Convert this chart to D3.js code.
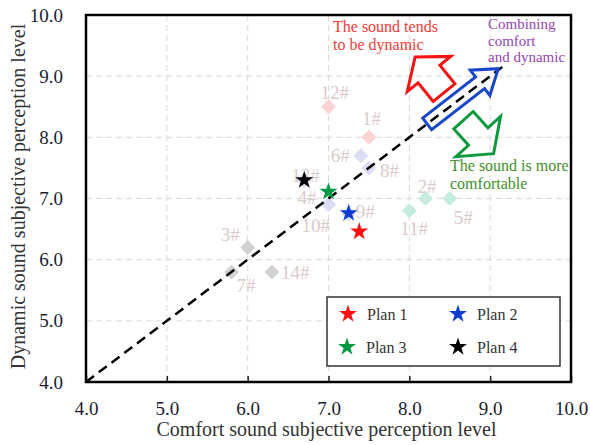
<!DOCTYPE html>
<html>
<head>
<meta charset="utf-8">
<script src="https://cdn.jsdelivr.net/npm/d3@7/dist/d3.min.js"></script>
<style>
  html, body { margin: 0; padding: 0; background: #fff; }
  svg { display: block; }
  svg text { font-family: "Liberation Serif", "Times New Roman", serif !important; }
</style>
</head>
<body>
<svg id="chart" width="590" height="445"></svg>
<script>
// ---- data ----
const tickValues = [4, 5, 6, 7, 8, 9, 10];
const xTitle = "Comfort sound subjective perception level";
const yTitle = "Dynamic sound subjective perception level";

// reference sound samples (diamonds)
const sampleNames   = ["1#", "2#", "3#", "4#", "5#", "6#", "7#", "8#", "9#", "10#", "11#", "12#", "13#", "14#"];
const sampleComfort = [7.5, 8.2, 6.0, 7.0, 8.5, 7.4, 5.8, 7.5, 7.25, 7.0, 8.0, 7.0, 6.7, 6.3];
const sampleDynamic = [8.0, 7.0, 6.2, 6.9, 7.0, 7.7, 5.8, 7.5, 6.75, 6.9, 6.8, 8.5, 7.3, 5.8];
const sampleGroup   = ["pink", "mint", "grey", "lilac", "mint", "lilac", "grey", "lilac", "lilac", "lilac", "mint", "pink", "lilac", "grey"];

// design plans (stars)
const planNames   = ["Plan 1", "Plan 2", "Plan 3", "Plan 4"];
const planComfort = [7.38, 7.25, 7.0, 6.7];
const planDynamic = [6.46, 6.76, 7.11, 7.3];

// ---- styles ----
const groupColor = { pink: "#fbd3d3", mint: "#c6ece0", grey: "#d2d2d2", lilac: "#dcdcf5" };
const planColor  = ["#ff1010", "#0b3ccf", "#009944", "#000000"];
const labelColor = "#dccaca";

// label placement around each diamond: [dx, dy, anchor]
const labelPlace = {
  "1#": [-7, -12, "start"], "2#": [-8, -6, "start"], "3#": [-8, -6, "end"],
  "4#": [-12, -1, "end"], "5#": [4, 25, "start"], "6#": [-11, 6, "end"],
  "7#": [5, 20, "start"], "8#": [11, 9, "start"], "9#": [7, 4, "start"],
  "10#": [-27, 27, "start"], "11#": [-9, 24, "start"], "12#": [-8, -8, "start"],
  "13#": [-13, 2, "start"], "14#": [9, 7, "start"]
};

const svg = d3.select("#chart");
const plotL = 86, plotR = 571, plotT = 15, plotB = 382;

const x = d3.scaleLinear().domain([4, 10]).range([plotL, plotR]);
const y = d3.scaleLinear().domain([4, 10]).range([plotB, plotT]);

// ---- grid ----
const grid = svg.append("g");
grid.selectAll("line.gx").data(tickValues.slice(1, -1)).join("line")
  .attr("x1", d => x(d)).attr("x2", d => x(d))
  .attr("y1", plotT).attr("y2", plotB)
  .attr("stroke", "#dadada").attr("stroke-width", 1).attr("stroke-dasharray", "6,4");
grid.selectAll("line.gy").data(tickValues.slice(1, -1)).join("line")
  .attr("x1", plotL).attr("x2", plotR)
  .attr("y1", d => y(d)).attr("y2", d => y(d))
  .attr("stroke", "#dadada").attr("stroke-width", 1).attr("stroke-dasharray", "6,4");

// ---- axes ----
const fmt = d3.format(".1f");
const xAxis = svg.append("g").attr("transform", `translate(0,${plotB})`)
  .call(d3.axisBottom(x).tickValues(tickValues).tickFormat(fmt).tickSizeInner(-6).tickSizeOuter(0).tickPadding(20));
const yAxis = svg.append("g").attr("transform", `translate(${plotL},0)`)
  .call(d3.axisLeft(y).tickValues(tickValues).tickFormat(fmt).tickSize(0).tickPadding(23));
[xAxis, yAxis].forEach(a => {
  a.select(".domain").remove();
  a.selectAll("text").attr("font-size", 19).attr("fill", "#1c1c30");
  a.selectAll("line").attr("stroke", "#222").attr("stroke-width", 1.5);
});

// axis titles
svg.append("text").attr("x", (plotL + plotR) / 2 - 2).attr("y", 436)
  .attr("text-anchor", "middle").attr("font-size", 20).attr("fill", "#333").text(xTitle);
svg.append("text").attr("transform", `translate(25,${(plotT + plotB) / 2 - 2}) rotate(-90)`)
  .attr("text-anchor", "middle").attr("font-size", 20).attr("fill", "#333").text(yTitle);

// ---- sample diamonds ----
const samples = sampleNames.map((n, i) => ({ name: n, cx: sampleComfort[i], dy: sampleDynamic[i], group: sampleGroup[i] }));
const diamond = d3.symbol(d3.symbolSquare, 112);
svg.append("g").selectAll("path").data(samples).join("path")
  .attr("d", diamond)
  .attr("transform", d => `translate(${x(d.cx)},${y(d.dy)}) rotate(45)`)
  .attr("fill", d => groupColor[d.group]);

// balance line y = x
svg.append("line")
  .attr("x1", x(4)).attr("y1", y(4)).attr("x2", x(9.2)).attr("y2", y(9.2))
  .attr("stroke", "#000").attr("stroke-width", 2.5).attr("stroke-dasharray", "10,6");

// sample labels
svg.append("g").selectAll("text").data(samples).join("text")
  .attr("x", d => x(d.cx) + labelPlace[d.name][0])
  .attr("y", d => y(d.dy) + labelPlace[d.name][1])
  .attr("text-anchor", d => labelPlace[d.name][2])
  .attr("font-size", 19).attr("fill", labelColor)
  .text(d => d.name);

// ---- plan stars ----
const star = d3.symbol(d3.symbolStar, 100);
const plans = planNames.map((n, i) => ({ name: n, cx: planComfort[i], dy: planDynamic[i], color: planColor[i] }));
svg.append("g").selectAll("path").data(plans).join("path")
  .attr("d", star)
  .attr("transform", d => `translate(${x(d.cx)},${y(d.dy)})`)
  .attr("fill", d => d.color);

// ---- hollow direction arrows ----
// outline of an arrow pointing along +x with its tail centred at the origin
function arrowPath(len, shaftHalf, headHalf, headLen) {
  const b = len - headLen;
  return d3.line()([[0, -shaftHalf], [b, -shaftHalf], [b, -headHalf], [len, 0],
                    [b, headHalf], [b, shaftHalf], [0, shaftHalf]]) + "Z";
}
const arrows = [
  { at: [8.22, 8.22], angle: -37.8, len: 90, shaft: 7.3, head: 16, headLen: 23, color: "#1a46c9" },
  { at: [8.43, 8.73], angle: -129,  len: 46, shaft: 14,  head: 28, headLen: 22, color: "#f41212" },
  { at: [8.67, 8.28], angle: 48,    len: 45, shaft: 13,  head: 30, headLen: 23, color: "#0d9a3e" }
];
svg.append("g").selectAll("path").data(arrows).join("path")
  .attr("d", d => arrowPath(d.len, d.shaft, d.head, d.headLen))
  .attr("transform", d => `translate(${x(d.at[0])},${y(d.at[1])}) rotate(${d.angle})`)
  .attr("fill", "none").attr("stroke", d => d.color).attr("stroke-width", 3)
  .attr("stroke-linejoin", "miter");

// ---- annotations ----
function multiline(lines, px, py, lh, color, size) {
  const t = svg.append("text").attr("x", px).attr("y", py).attr("font-size", size).attr("fill", color);
  lines.forEach((l, i) => t.append("tspan").attr("x", px).attr("dy", i === 0 ? 0 : lh).text(l));
}
multiline(["The sound tends", "to be dynamic"], 333, 32, 18, "#f23a3a", 16);
multiline(["Combining", "comfort", "and dynamic"], 488, 29, 16.7, "#9444b4", 15);
multiline(["The sound is more", "comfortable"], 450, 171, 17.6, "#3f8f2a", 16);

// ---- legend ----
const legend = svg.append("g");
legend.append("rect").attr("x", 327).attr("y", 297).attr("width", 233).attr("height", 69)
  .attr("fill", "#fff").attr("stroke", "#333").attr("stroke-width", 1.5);
const legPos = [[348, 314], [458, 314], [347, 347], [458, 347]];
const legItems = legend.selectAll("g.item").data(plans).join("g")
  .attr("transform", (d, i) => `translate(${legPos[i][0]},${legPos[i][1]})`);
legItems.append("path").attr("d", star).attr("fill", d => d.color);
legItems.append("text").attr("x", 19).attr("y", 6).attr("font-size", 16).attr("fill", "#333").text(d => d.name);

// ---- frame ----
svg.append("rect").attr("x", plotL).attr("y", plotT).attr("width", plotR - plotL).attr("height", plotB - plotT)
  .attr("fill", "none").attr("stroke", "#000").attr("stroke-width", 2.5);
</script>
</body>
</html>
